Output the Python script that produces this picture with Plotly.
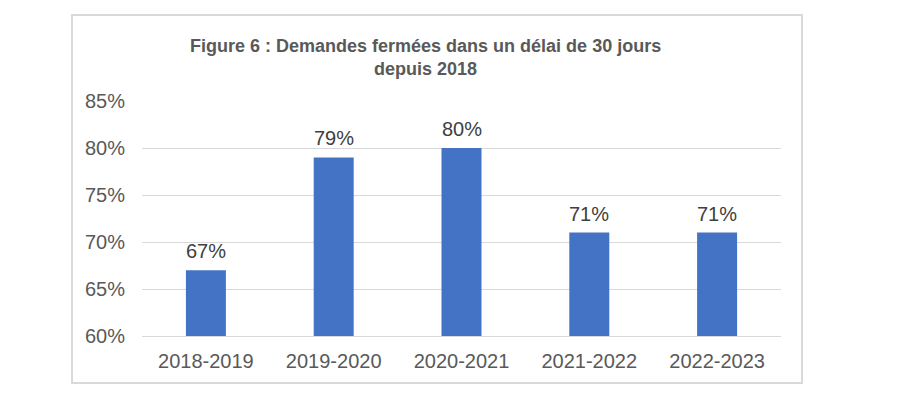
import plotly.graph_objects as go

categories = ["2018-2019", "2019-2020", "2020-2021", "2021-2022", "2022-2023"]
values = [67, 79, 80, 71, 71]
y_ticks = [60, 65, 70, 75, 80, 85]
y_tick_labels = [f"{v}%" for v in y_ticks]
title_text = "<b>Figure 6 : Demandes fermées dans un délai de 30 jours<br>depuis 2018</b>"

FONT = "Liberation Sans, Arial, sans-serif"
TXT = "#595959"

fig = go.Figure()
fig.add_trace(go.Bar(
    x=categories, y=values,
    marker=dict(color="#4472C4", line=dict(width=0)),
    hoverinfo="skip",
))

for c, v in zip(categories, values):
    fig.add_annotation(
        x=c, y=v, text=f"{v}%", showarrow=False,
        yanchor="bottom", yshift=6,
        font=dict(family=FONT, size=20, color="#404040"),
    )

fig.add_annotation(
    xref="paper", yref="paper", x=(425 - 142) / 639, y=(336 - 57.5) / 235,
    xanchor="center", yanchor="middle", text=title_text, showarrow=False,
    font=dict(family=FONT, size=18, color=TXT),
)

fig.add_shape(
    type="rect", xref="paper", yref="paper",
    x0=(72 - 142) / 639, x1=(802 - 142) / 639,
    y0=(336 - 383) / 235, y1=(336 - 15) / 235,
    line=dict(color="#d9d9d9", width=2), fillcolor="rgba(0,0,0,0)", layer="below",
)

fig.update_layout(
    width=889, height=389,
    margin=dict(l=134, r=116, t=93, b=61, autoexpand=False),
    paper_bgcolor="white", plot_bgcolor="white",
    bargap=0.687,
    showlegend=False,
    font=dict(family=FONT, size=20, color=TXT),
)
fig.update_yaxes(
    range=[60, 85], tickvals=y_ticks, ticktext=y_tick_labels,
    showgrid=True, gridcolor="#d9d9d9", gridwidth=1,
    zeroline=False, showline=False, ticks="", ticklabelstandoff=16,
    tickfont=dict(family=FONT, size=20, color=TXT),
)
fig.update_xaxes(
    showgrid=False, zeroline=False, showline=True, linecolor="#d9d9d9", linewidth=1,
    ticks="", ticklabelstandoff=7,
    tickfont=dict(family=FONT, size=20, color=TXT),
)

fig.write_html("out.html")
